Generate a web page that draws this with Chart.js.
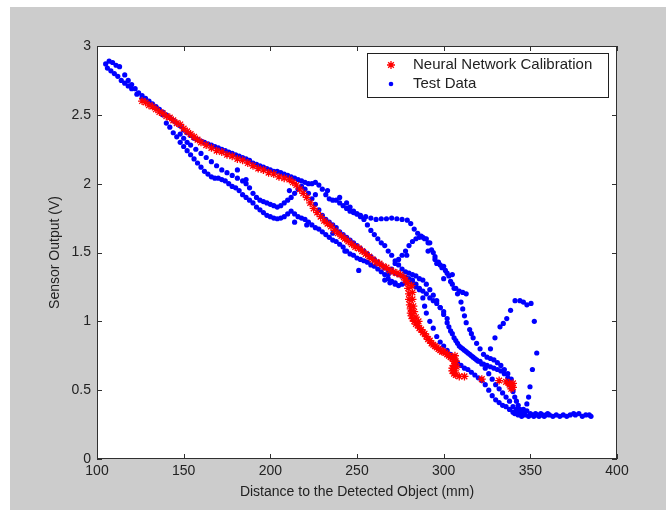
<!DOCTYPE html>
<html>
<head>
<meta charset="utf-8">
<script src="https://cdn.jsdelivr.net/npm/chart.js@4.4.0/dist/chart.umd.min.js"></script>
<style>
  html, body { margin: 0; padding: 0; background: #ffffff; }
  #wrap { width: 666px; height: 510px; }
</style>
</head>
<body>
<div id="wrap"><canvas id="scatter-chartcanvas"></canvas></div>
<script>
// axis ticks
var xTicks = [100, 150, 200, 250, 300, 350, 400];
var yTicks = [0, 0.5, 1, 1.5, 2, 2.5, 3];

// neural network calibration curve (red stars)
var nnCalibration = [
  [126,2.60],[128,2.59],[130,2.57],[132,2.56],[134,2.54],[136,2.52],[138,2.51],[140,2.49],[142,2.48],[144,2.46],
  [146,2.44],[148,2.43],[150,2.40],[152,2.38],[154,2.36],[156,2.34],[158,2.32],[160,2.30],[163,2.28],[166,2.26],
  [169,2.24],[172,2.23],[175,2.21],[178,2.20],[181,2.18],[184,2.17],[187,2.15],[190,2.13],[193,2.11],[196,2.10],
  [199,2.08],[202,2.07],[205,2.05],[208,2.04],[211,2.03],[213,2.01],[215,1.99],[217,1.96],[219,1.93],[221,1.90],
  [223,1.86],[225,1.82],[227,1.79],[229,1.76],[231,1.73],[233,1.71],[235,1.69],[237,1.66],[239,1.64],[241,1.62],
  [243,1.60],[245,1.58],[247,1.56],[249,1.54],[251,1.53],[253,1.51],[255,1.49],[257,1.47],[259,1.45],[261,1.43],
  [263,1.42],[265,1.40],[267,1.39],[269,1.37],[271,1.36],[273,1.35],[275,1.34],[277,1.32],[278,1.30],[279,1.28],
  [279.5,1.24],[280,1.20],[280,1.16],[280.5,1.12],[281,1.09],[281,1.06],[281.5,1.04],[282,1.02],[283,1.00],[284,0.98],
  [281.5,1.26],[282,1.21],[282,1.16],[282.5,1.11],[283,1.07],[284,1.03],[285.5,1.00],
  [285,0.97],[286,0.95],[287,0.94],[288,0.92],[289,0.91],[290,0.89],[291,0.87],[292,0.86],[293,0.84],[294,0.83],
  [295,0.82],[296,0.81],[297,0.80],[298,0.79],[299,0.78],[300,0.78],[301,0.77],[302,0.76],[303,0.75],[304,0.74],
  [305,0.73],[306,0.71],[306,0.68],[305,0.66],[305,0.64],[306,0.62],[307,0.61],[309,0.60],[312,0.60],[322,0.58],
  [306.5,0.75],[307,0.71],[307.5,0.67],[306.5,0.64],
  [332,0.57],[336,0.56],[338,0.55],[339,0.53],[339,0.51],[338,0.54],[340,0.55],[340,0.52]
];

// test data runs (blue dots)
var testRunA = [
  [105,2.87],[107,2.89],[109,2.88],[111,2.86],[113,2.85],[116,2.79],[118,2.75],[120,2.72],[122,2.69],[124,2.66],
  [126,2.64],[128,2.62],[130,2.60],[132,2.58],[134,2.56],[136,2.54],[138,2.52],[140,2.50],[142,2.48],[144,2.46],
  [146,2.44],[148,2.42],[150,2.39],[152,2.37],[154,2.35],[156,2.33],[158,2.32],[160,2.31],[162,2.30],[164,2.29],
  [166,2.28],[168,2.27],[170,2.26],[172,2.25],[174,2.24],[176,2.23],[178,2.22],[180,2.21],[182,2.20],[184,2.19],
  [186,2.18],[188,2.17],[190,2.15],[192,2.14],[194,2.13],[196,2.12],[198,2.11],[200,2.10],[202,2.09],[204,2.09],
  [206,2.08],[208,2.07],[210,2.06],[212,2.05],[214,2.04],[216,2.03],[218,2.02],[220,2.01],[222,2.00],[224,2.00],
  [226,2.01],[228,1.99],[230,1.96],[232,1.92],[234,1.89],[236,1.88],[238,1.88],[240,1.86],[242,1.84],[244,1.82],
  [246,1.80],[248,1.79],[250,1.78],[252,1.77],[255,1.76],[258,1.75],[261,1.74],[264,1.745],[267,1.745],[270,1.75],
  [273,1.745],[276,1.74],[279,1.735],[281,1.71],[283,1.67],[285,1.64],[287,1.62],[289,1.60],[291,1.57],[293,1.52],
  [295,1.47],[297,1.43],[299,1.39],[301,1.37],[303,1.33],[305,1.27],[307,1.24],[309,1.22],[311,1.21],[313,1.20]
];
var testRunB = [
  [106,2.84],[108,2.82],[110,2.80],[112,2.78],[114,2.75],[116,2.73],[118,2.71],[120,2.69],[123,2.65],[126,2.62],
  [130,2.59],[134,2.55],[138,2.50],[140,2.44],[142,2.41],[144,2.37],[146,2.34],[148,2.30],[150,2.27],[152,2.24],
  [154,2.21],[156,2.18],[158,2.15],[160,2.12],[162,2.09],[164,2.07],[166,2.05],[168,2.04],[170,2.04],[172,2.03],
  [174,2.02],[176,2.00],[178,1.98],[180,1.97],[182,1.95],[184,1.92],[186,1.90],[188,1.88],[190,1.86],[192,1.83],
  [194,1.81],[196,1.79],[198,1.77],[200,1.76],[202,1.75],[204,1.745],[206,1.75],[208,1.76],[210,1.78],[212,1.80],
  [214,1.78],[216,1.76],[218,1.75],[220,1.74],[222,1.72],[224,1.70],[226,1.68],[228,1.67],[230,1.65],[232,1.63],
  [234,1.61],[236,1.59],[238,1.58],[240,1.56],[242,1.54],[244,1.51],[246,1.49],[248,1.48],[250,1.46],[252,1.45],
  [254,1.44],[256,1.43],[258,1.41],[260,1.40],[262,1.38],[264,1.36],[266,1.34],[268,1.31],[270,1.29],[272,1.27],
  [274,1.26],[276,1.27],[278,1.28],[280,1.30],[282,1.28],[284,1.25],[286,1.24],[288,1.22],[290,1.20],[292,1.17],
  [294,1.15],[296,1.13],[298,1.10],[300,1.07],[302,1.02],[303,0.96],[305,0.91],[307,0.86],[309,0.82],[311,0.80],
  [313,0.78],[315,0.76],[317,0.74],[319,0.72],[321,0.71],[323,0.69],[325,0.68],[327,0.67],[329,0.66],[331,0.65],
  [333,0.64],[335,0.62],[337,0.59],[338,0.56],[339,0.52],[340,0.49],[341,0.45],[342,0.42],[343,0.39],[344,0.36],
  [346,0.34]
];
var testRunC = [
  [148,2.36],[150,2.33],[152,2.30],[154,2.28],[157,2.25],[160,2.22],[163,2.19],[166,2.16],[169,2.13],[172,2.10],
  [175,2.08],[178,2.06],[181,2.04],[184,2.02],[186,2.00],[188,1.97],[190,1.93],[192,1.90],[194,1.88],[196,1.87],
  [198,1.86],[200,1.85],[202,1.84],[204,1.83],[206,1.84],[208,1.86],[210,1.88],[212,1.90],[214,1.93],[216,1.96],
  [218,1.98],[220,1.96],[222,1.93],[224,1.89],[226,1.85],[228,1.81],[230,1.77],[232,1.74],[234,1.72],[236,1.70],
  [238,1.68],[240,1.65],[242,1.63],[244,1.61],[246,1.59],[248,1.57],[250,1.55],[252,1.53],[254,1.51],[256,1.49],
  [258,1.47],[260,1.45],[262,1.43],[264,1.41],[266,1.39],[268,1.37],[270,1.36],[272,1.35],[274,1.34],[276,1.33],
  [278,1.32],[280,1.31],[282,1.30],[284,1.27],[286,1.23],[288,1.17],[289,1.11],[290,1.06],[292,1.00],[294,0.95],
  [296,0.89],[298,0.85],[300,0.82],[302,0.79],[304,0.76],[306,0.73],[308,0.70],[310,0.68],[312,0.66],[314,0.65],
  [316,0.63],[318,0.61],[320,0.59],[322,0.57],[324,0.54],[326,0.50],[328,0.46],[330,0.43],[332,0.41],[334,0.39],
  [336,0.38],[338,0.36],[340,0.34],[342,0.33]
];
var testRunD = [
  [244,1.86],[246,1.83],[248,1.80],[250,1.78],[252,1.76],[254,1.74],[256,1.70],[258,1.66],[260,1.63],[262,1.60],
  [264,1.57],[266,1.55],[268,1.51],[270,1.48],[272,1.44],[274,1.41],[276,1.38],[278,1.36],[280,1.35],[282,1.34],
  [284,1.33],[286,1.31],[288,1.30],[290,1.27],[292,1.23],[294,1.19],[296,1.15],[298,1.10],[300,1.05],[302,0.99],
  [304,0.93],[306,0.88],[308,0.84],[310,0.81],[312,0.79],[314,0.77],[316,0.75],[318,0.73],[320,0.71],[322,0.69],
  [324,0.66],[326,0.62],[328,0.58],[330,0.54],[332,0.51],[334,0.48],[336,0.45],[338,0.42],[340,0.38],[342,0.35],
  [344,0.33]
];
var testRunE = [
  [266,1.30],[268,1.34],[270,1.38],[272,1.42],[274,1.45],[276,1.48],[278,1.51],[280,1.55],[282,1.58],[284,1.60],
  [286,1.61],[288,1.61],[290,1.60],[292,1.57],[294,1.50],[295,1.45],[296,1.42],[298,1.41],[300,1.40],[302,1.35],
  [304,1.29],[306,1.24],[308,1.20],[310,1.14],[311,1.09],[312,1.04],[313,0.99],[315,0.94],[316,0.91],[317,0.88],
  [319,0.84],[321,0.80],[323,0.76],[325,0.74],[327,0.73],[329,0.72],[331,0.70],[333,0.68],[335,0.65],[337,0.62],
  [339,0.58]
];
var testRunF = [
  [327,0.80],[329.6,0.88],[332.5,0.96],[334.4,0.985],[336.4,1.02],[338.6,1.08],[341.2,1.15],[344,1.15],[346,1.14],
  [348,1.12],[350.4,1.13],[352.3,1.00],[353.7,0.77],[351.2,0.65],[349.8,0.525],[349,0.45],[348,0.40],[346,0.36]
];
var testTail = [
  [341,0.33],[342,0.36],[343,0.32],[344,0.35],[345,0.31],[346,0.33],[347,0.32],[348,0.35],[349,0.31],[350,0.33],
  [351,0.32],[352,0.31],[353,0.33],[354,0.32],[355,0.31],[356,0.33],[357,0.32],[358,0.31],[359,0.32],[360,0.33],
  [361,0.32],[363,0.31],[365,0.32],[367,0.31],[369,0.32],[371,0.31],[373,0.32],[375,0.33],[376,0.32],[378,0.33],
  [380,0.31],[382,0.32],[384,0.32],[385,0.31]
];
var testExtra = [
  [251,1.37],[243,1.51],[269,1.28],[272,1.28],[211,1.95],[181,2.10],[186,2.03],[214,1.72],[221,1.70],[236,1.64],
  [233,1.95],[240,1.90],[226,1.92],[305,1.34],[300,1.31],[291,1.51],[278.7,1.48]
];

function toPoints(list) {
  return list.map(function(p) { return { x: p[0], y: p[1] }; });
}

var testData = [].concat(testRunA, testRunB, testRunC, testRunD, testRunE, testRunF, testTail, testExtra);

var FONT = "'Liberation Sans', Arial, sans-serif";
var TEXT = '#222222';

// grey figure, white axes, inward ticks on all four sides, legend box
var matlabFrame = {
  id: 'matlabFrame',
  beforeDraw: function(chart) {
    var ctx = chart.ctx, a = chart.chartArea;
    ctx.save();
    ctx.fillStyle = '#ffffff';
    ctx.fillRect(0, 0, chart.width, chart.height);
    ctx.fillStyle = '#cccccc';
    ctx.fillRect(10, 7, chart.width - 10, chart.height - 7);
    ctx.fillStyle = '#ffffff';
    ctx.fillRect(a.left, a.top, a.right - a.left, a.bottom - a.top);
    ctx.restore();
  },
  afterDatasetsDraw: function(chart) {
    var ctx = chart.ctx, a = chart.chartArea;
    var xs = chart.scales.x, ys = chart.scales.y;
    var tl = 5;
    ctx.save();
    ctx.strokeStyle = '#303030';
    ctx.lineWidth = 1;
    ctx.strokeRect(a.left + 0.5, a.top + 0.5, a.right - a.left - 1, a.bottom - a.top - 1);
    ctx.beginPath();
    xs.ticks.forEach(function(t) {
      var px = Math.round(xs.getPixelForValue(t.value)) + 0.5;
      ctx.moveTo(px, a.bottom); ctx.lineTo(px, a.bottom - tl);
      ctx.moveTo(px, a.top); ctx.lineTo(px, a.top + tl);
    });
    ys.ticks.forEach(function(t) {
      var py = Math.round(ys.getPixelForValue(t.value)) + 0.5;
      ctx.moveTo(a.left, py); ctx.lineTo(a.left + tl, py);
      ctx.moveTo(a.right, py); ctx.lineTo(a.right - tl, py);
    });
    ctx.stroke();

    // legend: calibration first, then test data
    var bw = 242, bh = 45;
    var bx = a.right - 8 - bw, by = a.top + 7;
    ctx.fillStyle = '#ffffff';
    ctx.fillRect(bx, by, bw, bh);
    ctx.strokeStyle = '#202020';
    ctx.strokeRect(bx + 0.5, by + 0.5, bw - 1, bh - 1);
    ctx.font = '15px ' + FONT;
    ctx.textBaseline = 'middle';
    ctx.textAlign = 'left';
    chart.data.datasets.forEach(function(ds, row) {
      var cy = by + 12 + row * 19;
      var cx = bx + 24;
      if (ds.pointStyle === 'star') {
        var r = 4;
        ctx.strokeStyle = ds.borderColor;
        ctx.lineWidth = 1.3;
        ctx.beginPath();
        ctx.moveTo(cx - r, cy); ctx.lineTo(cx + r, cy);
        ctx.moveTo(cx, cy - r); ctx.lineTo(cx, cy + r);
        var d = r * Math.SQRT1_2;
        ctx.moveTo(cx - d, cy - d); ctx.lineTo(cx + d, cy + d);
        ctx.moveTo(cx - d, cy + d); ctx.lineTo(cx + d, cy - d);
        ctx.stroke();
      } else {
        ctx.fillStyle = ds.backgroundColor;
        ctx.beginPath();
        ctx.arc(cx, cy, 2.3, 0, Math.PI * 2);
        ctx.fill();
      }
      ctx.fillStyle = TEXT;
      ctx.fillText(ds.label, bx + 46, cy);
    });
    ctx.restore();
  }
};

var ctx = document.getElementById('scatter-chartcanvas');

var chart = new Chart(ctx, {
  type: 'scatter',
  data: {
    datasets: [
      {
        label: 'Neural Network Calibration',
        data: toPoints(nnCalibration),
        pointStyle: 'star',
        pointRadius: 4,
        pointBorderWidth: 1.3,
        backgroundColor: '#ff0000',
        borderColor: '#ff0000'
      },
      {
        label: 'Test Data',
        data: toPoints(testData),
        pointStyle: 'circle',
        pointRadius: 2.6,
        pointBorderWidth: 0,
        backgroundColor: '#0000ff',
        borderColor: '#0000ff'
      }
    ]
  },
  options: {
    responsive: true,
    maintainAspectRatio: false,
    animation: false,
    layout: { padding: { left: 0, top: 46, right: 49, bottom: 0 } },
    plugins: {
      legend: { display: false },
      tooltip: { enabled: false }
    },
    scales: {
      x: {
        type: 'linear',
        min: xTicks[0],
        max: xTicks[xTicks.length - 1],
        afterBuildTicks: function(scale) {
          scale.ticks = xTicks.map(function(v) { return { value: v }; });
        },
        afterFit: function(scale) { scale.height = 51; },
        grid: { display: false, drawTicks: false },
        border: { display: false },
        ticks: {
          color: TEXT, font: { size: 14, family: FONT }, padding: 4, maxRotation: 0, autoSkip: false,
          callback: function(v) { return String(v); }
        },
        title: {
          display: true,
          text: 'Distance to the Detected Object (mm)',
          color: TEXT,
          font: { size: 14, family: FONT },
          padding: { top: 0, bottom: 9 }
        }
      },
      y: {
        type: 'linear',
        min: yTicks[0],
        max: yTicks[yTicks.length - 1],
        afterBuildTicks: function(scale) {
          scale.ticks = yTicks.map(function(v) { return { value: v }; });
        },
        afterFit: function(scale) { scale.width = 97; },
        grid: { display: false, drawTicks: false },
        border: { display: false },
        ticks: {
          color: TEXT, font: { size: 14, family: FONT }, padding: 6, autoSkip: false,
          callback: function(v) { return String(v); }
        },
        title: {
          display: true,
          text: 'Sensor Output (V)',
          color: TEXT,
          font: { size: 14, family: FONT },
          padding: { top: 47, bottom: 0 }
        }
      }
    }
  },
  plugins: [matlabFrame]
});
</script>
</body>
</html>
